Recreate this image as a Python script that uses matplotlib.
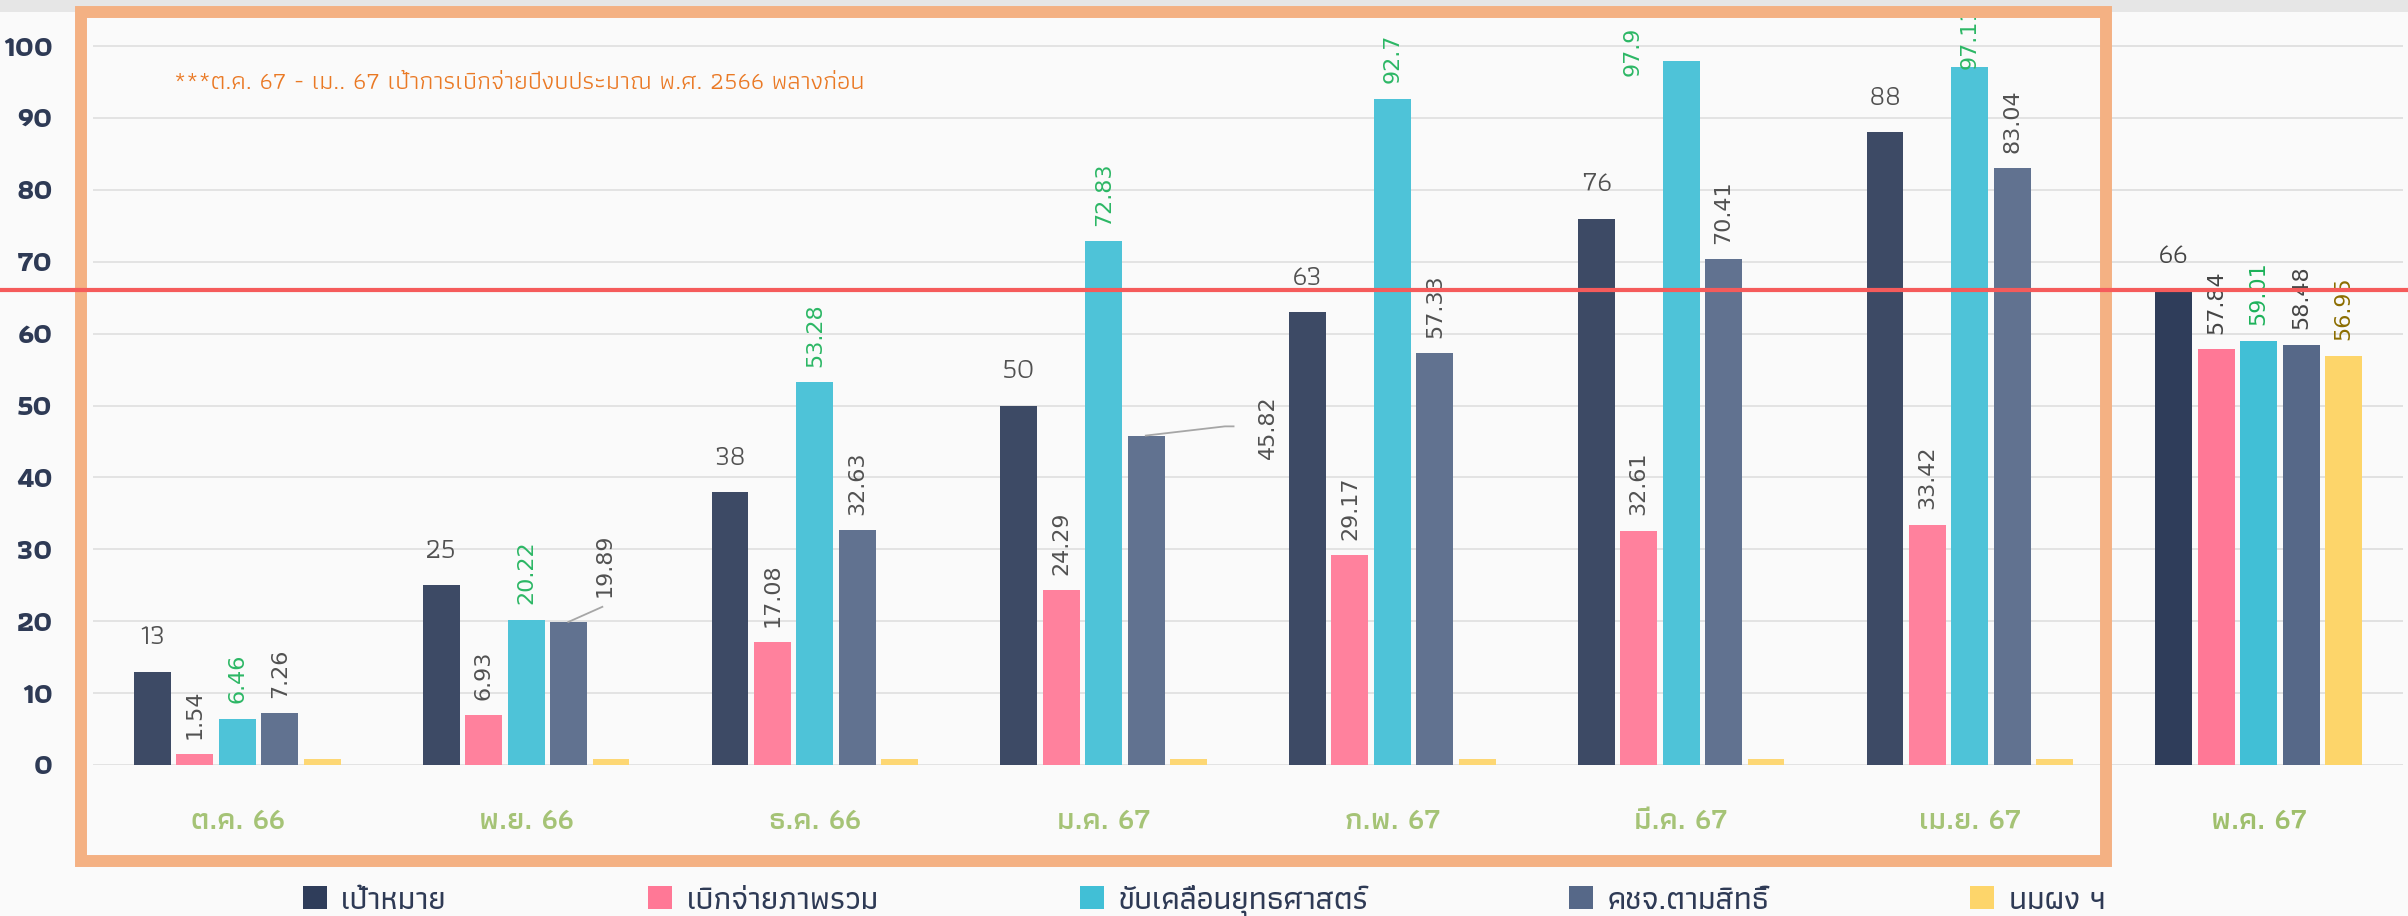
import matplotlib
matplotlib.use("Agg")
import matplotlib.pyplot as plt
from matplotlib.patches import Rectangle, Patch
from matplotlib.lines import Line2D
from matplotlib.transforms import blended_transform_factory
import numpy as np

# ข้อมูลจากกราฟ (ร้อยละการเบิกจ่าย)
months = ["ต.ค. 66", "พ.ย. 66", "ธ.ค. 66", "ม.ค. 67", "ก.พ. 67", "มี.ค. 67", "เม.ย. 67", "พ.ค. 67"]
series_names = ["เป้าหมาย", "เบิกจ่ายภาพรวม", "ขับเคลื่อนยุทธศาสตร์", "คชจ.ตามสิทธิ์", "นมผง ฯ"]
target = [13, 25, 38, 50, 63, 76, 88, 66]
spend_total = [1.54, 6.93, 17.08, 24.29, 29.17, 32.61, 33.42, 57.84]
strategy = [6.46, 20.22, 53.28, 72.83, 92.7, 97.9, 97.11, 59.01]
entitlement = [7.26, 19.89, 32.63, 45.82, 57.33, 70.41, 83.04, 58.48]
milk = [0.8, 0.8, 0.8, 0.8, 0.8, 0.8, 0.8, 56.95]
target_line = 66
note = "***ต.ค. 67 - เม.. 67 เป้าการเบิกจ่ายปีงบประมาณ พ.ศ. 2566 พลางก่อน"

series = [target, spend_total, strategy, entitlement, milk]
colors = ["#2f3d5a", "#ff7896", "#41bfd6", "#566888", "#fdd56a"]
label_colors = [None, "#444444", "#1db25a", "#444444", "#8c6d00"]

thai = ["Athiti", "DejaVu Sans"]
navy = "#2e3a55"
W, H = 2408, 916

fig = plt.figure(figsize=(W / 100, H / 100), dpi=100, facecolor="#fafafa")
ax = fig.add_axes([93 / W, (H - 765) / H, (2403 - 93) / W, (765 - 18) / H])
ax.set_facecolor("#fafafa")
ax.set_xlim(-0.5, len(months) - 0.5)
ax.set_ylim(0, 103.9)

# แท่งกราฟ
x = np.arange(len(months))
step = 0.147
width = 0.128
for i, vals in enumerate(series):
    ax.bar(x + (i - 2) * step, vals, width, color=colors[i], zorder=2)

# ป้ายค่าแบบพิเศษ (เลื่อนตำแหน่ง / มีเส้นโยง) : (series, group) -> (x, y, va)
moved = {
    (3, 1): (1.271, 23.4, "bottom"),
    (3, 3): (3.568, 47.0, "center"),
    (2, 5): (4.832, 95.8, "bottom"),
    (2, 6): (6.0, 96.8, "bottom"),
}
leaders = {
    (3, 1): ([1.146, 1.264], [19.89, 22.0]),
    (3, 3): ([3.146, 3.42, 3.45], [45.82, 47.1, 47.1]),
}

for i, vals in enumerate(series):
    for g, v in enumerate(vals):
        bx = g + (i - 2) * step
        if i == 0:
            ax.annotate(str(v), (bx, v), xytext=(0, 25), textcoords="offset points",
                        ha="center", va="center", fontsize=21, color="#444444",
                        family=thai, zorder=4)
            continue
        if i == 4 and v < 1:
            continue
        txt = f"{v:g}"
        if (i, g) in moved:
            tx, ty, va = moved[(i, g)]
            ax.text(tx, ty, txt, rotation=90, ha="center", va=va, fontsize=16,
                    color=label_colors[i], family="DejaVu Sans", clip_on=True, zorder=4)
        else:
            ax.annotate(txt, (bx, v), xytext=(0, 11), textcoords="offset points",
                        rotation=90, ha="center", va="bottom", fontsize=16,
                        color=label_colors[i], family="DejaVu Sans",
                        annotation_clip=True, zorder=4)
        if (i, g) in leaders:
            lx, ly = leaders[(i, g)]
            ax.plot(lx, ly, color="#a0a0a0", lw=1.3, zorder=3)

# หมายเหตุ
ax.text(-0.218, 94.9, note, ha="left", va="center", fontsize=18.3, color="#e96f14", family=thai)

# แกน
ax.set_yticks(range(0, 101, 10))
ax.set_xticks(x)
ax.set_xticklabels(months)
ax.grid(axis="y", color="#dcdcdc", lw=1.2, zorder=0)
ax.set_axisbelow(True)
for s in ax.spines.values():
    s.set_visible(False)
ax.tick_params(axis="both", length=0)
ax.tick_params(axis="y", pad=29)
ax.tick_params(axis="x", pad=41)
for lab in ax.get_yticklabels():
    lab.set_family(thai)
    lab.set_fontsize(21)
    lab.set_fontweight("bold")
    lab.set_color(navy)
for lab in ax.get_xticklabels():
    lab.set_family(thai)
    lab.set_fontsize(22)
    lab.set_fontweight("semibold")
    lab.set_color("#9fbf6c")
    lab.set_va("center")

# แถบสีเทาด้านบน
fig.add_artist(Rectangle((0, (H - 12) / H), 1, 12 / H, transform=fig.transFigure,
                         facecolor="#e6e6e6", edgecolor="none", zorder=0.5))

# กรอบสีส้ม ต.ค. 66 - เม.ย. 67
fig.add_artist(Rectangle((81 / W, (H - 861) / H), 2025 / W, 849 / H, transform=fig.transFigure,
                         facecolor=(1, 1, 1, 0.07), edgecolor="#f4b183", lw=8.6, zorder=2))

# เส้นเป้าหมาย 66
trans = blended_transform_factory(fig.transFigure, ax.transData)
fig.add_artist(Line2D([0, 1], [target_line, target_line], transform=trans,
                      color="#f55b5b", lw=3, zorder=3))

# คำอธิบาย
handles = [Patch(facecolor=c, edgecolor="none") for c in colors]
leg = fig.legend(handles, series_names, loc="center", bbox_to_anchor=(0.5, (H - 901) / H),
                 ncol=5, frameon=False, handlelength=0.75, handleheight=0.75,
                 handletextpad=0.45, columnspacing=6.3,
                 prop={"family": thai, "size": 23, "weight": "medium"})
for t in leg.get_texts():
    t.set_color(navy)

fig.savefig("out.png", dpi=100, facecolor=fig.get_facecolor())
